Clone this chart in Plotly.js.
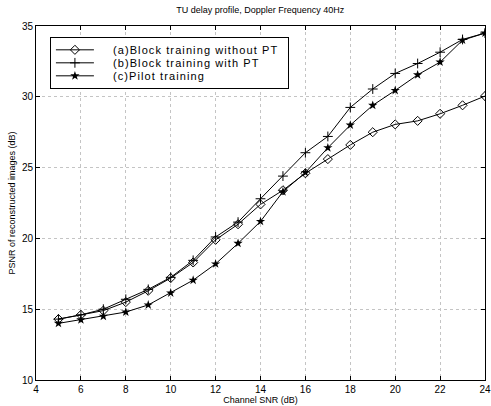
<!DOCTYPE html>
<html>
<head>
<meta charset="utf-8">
<script src="https://cdn.plot.ly/plotly-3.0.1.min.js"></script>
<style>html,body{margin:0;padding:0;background:#fff;}#chart{width:491px;height:406px;}
.legendtext{letter-spacing:1.1px;}</style>
</head>
<body>
<div id="chart"></div>
<script>
const snr = [5,6,7,8,9,10,11,12,13,14,15,16,17,18,19,20,21,22,23,24];
const blockNoPT = [14.3,14.6,14.9,15.5,16.3,17.2,18.3,19.9,21.0,22.4,23.4,24.6,25.6,26.6,27.5,28.05,28.3,28.8,29.4,30.05];
const blockPT = [14.3,14.6,15.0,15.7,16.4,17.25,18.45,20.1,21.15,22.8,24.4,26.05,27.2,29.25,30.55,31.65,32.35,33.15,34.05,34.5];
const pilot = [14.0,14.25,14.5,14.8,15.3,16.15,17.05,18.2,19.65,21.2,23.3,24.65,26.4,28.0,29.4,30.45,31.55,32.45,34.0,34.5];
const seriesNames = ['(a)Block training without PT','(b)Block training with PT','(c)Pilot training'];
const xTicks = [4,6,8,10,12,14,16,18,20,22,24];
const yTicks = [10,15,20,25,30,35];

const font = 'Liberation Sans, Arial, Helvetica, sans-serif';
const traces = [
  {x: snr, y: blockNoPT, name: seriesNames[0], mode: 'lines+markers',
   line: {color: '#000', width: 1},
   marker: {symbol: 'diamond-open', size: 7, color: '#000', line: {width: 1, color: '#000'}}},
  {x: snr, y: blockPT, name: seriesNames[1], mode: 'lines+markers',
   line: {color: '#000', width: 1},
   marker: {symbol: 'cross-thin-open', size: 7, color: '#000', line: {width: 1, color: '#000'}}},
  {x: snr, y: pilot, name: seriesNames[2], mode: 'lines+markers',
   line: {color: '#000', width: 1},
   marker: {symbol: 'star', size: 7, color: '#000'}}
];

const axisCommon = {
  showline: true, linecolor: '#000', linewidth: 1, mirror: 'ticks',
  ticks: 'inside', ticklen: 4, tickcolor: '#000',
  showgrid: true, gridcolor: '#c4c4c4', griddash: 'dot', gridwidth: 1,
  zeroline: false, tickfont: {family: font, size: 10, color: '#000'}
};

const layout = {
  width: 491, height: 406,
  margin: {l: 36, r: 6, t: 26, b: 26},
  paper_bgcolor: '#fff', plot_bgcolor: '#fff',
  title: {text: 'TU delay profile, Doppler Frequency 40Hz', x: 0.53, xanchor: 'center', y: 0.975, yanchor: 'middle',
          font: {family: font, size: 9, color: '#000'}},
  xaxis: Object.assign({}, axisCommon, {range: [4, 24], tickvals: xTicks,
    title: {text: 'Channel SNR (dB)', standoff: 0, font: {family: font, size: 9, color: '#000'}}}),
  yaxis: Object.assign({}, axisCommon, {range: [10, 35], tickvals: yTicks,
    title: {text: 'PSNR of reconstructed images (dB)', standoff: 4, font: {family: font, size: 9, color: '#000'}}}),
  showlegend: true,
  legend: {x: 0.031, y: 0.968, xanchor: 'left', yanchor: 'top', bgcolor: '#fff',
           bordercolor: '#000', borderwidth: 1, font: {family: font, size: 11, color: '#000'},
           tracegroupgap: 0, itemwidth: 30}
};

Plotly.newPlot('chart', traces, layout, {displayModeBar: false, staticPlot: true}).then(function (gd) {
  // compact legend layout to match the reference legend box
  const leg = gd.querySelector('g.legend');
  if (!leg) return;
  const sb = leg.querySelector('g.scrollbox');
  if (sb) sb.removeAttribute('clip-path');
  const items = leg.querySelectorAll('g.traces');
  items.forEach(function (g, i) {
    g.setAttribute('transform', 'translate(1,' + (12.5 + i * 13) + ')');
    const t = g.querySelector('text.legendtext');
    if (t) t.setAttribute('x', 62);
    g.querySelectorAll('.legendlines path').forEach(function (p) { p.setAttribute('d', 'M5,0h38'); });
    g.querySelectorAll('.legendpoints path').forEach(function (p) { p.setAttribute('transform', 'translate(24,0)'); });
  });
  const bg = leg.querySelector('rect.bg');
  if (bg) { bg.setAttribute('height', 51); bg.setAttribute('width', 238); }
});
</script>
</body>
</html>
